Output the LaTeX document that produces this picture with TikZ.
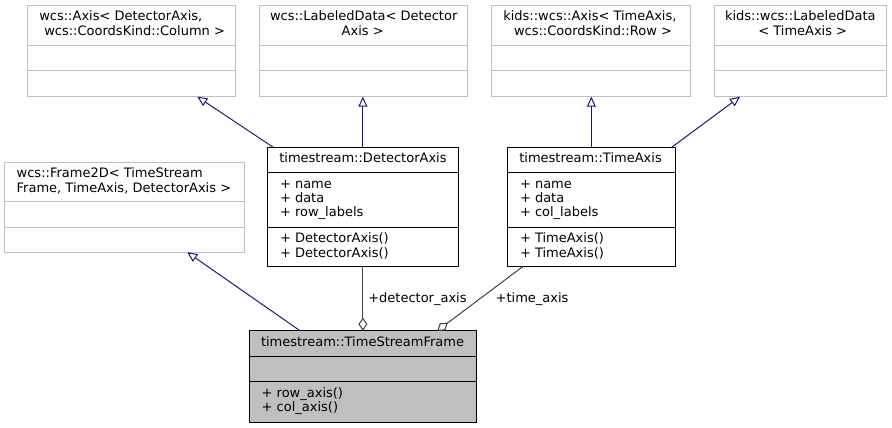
\documentclass[tikz,border=0pt]{standalone}
\usepackage{fontspec}
\setmainfont{DejaVu Sans}
\usetikzlibrary{arrows.meta}
\definecolor{inhc}{HTML}{191970}
\definecolor{aggc}{HTML}{404040}
\definecolor{grayb}{HTML}{BFBFBF}
\newcommand\umlbox[9]{%
  \node[draw=#2, fill=#3, line width=1pt, inner sep=0pt, outer sep=0pt, anchor=north west,
        minimum width={(#6-#4)*1pt}, minimum height={(#7-#5)*1pt}] (#1) at (#4,#5) {};
  \draw[#2, line width=1pt] (#4,#8) -- (#6,#8) (#4,#9) -- (#6,#9);
}
\tikzset{
  txt/.style={inner sep=0pt, outer sep=0pt, anchor=base west},
  inh/.style={draw=inhc, line width=1pt, -{Triangle[length=10pt,width=9pt,fill=white]}},
  agg/.style={draw=aggc, line width=1pt, -{Diamond[length=13pt,width=9pt,fill=white]}}
}
\begin{document}
\begin{tikzpicture}[x=1pt,y=-1pt,font=\fontsize{13}{15}\selectfont]
\useasboundingbox (0,0) rectangle (892,428);
% top row
\umlbox{A}{grayb}{white}{27.3}{5.3}{235}{96.7}{45.7}{71}
\umlbox{B}{grayb}{white}{259}{5.3}{467}{96.7}{45.7}{71}
\umlbox{C}{grayb}{white}{491.7}{5.3}{690.3}{96.7}{45.7}{71}
\umlbox{D}{grayb}{white}{714}{5.3}{886.7}{96.7}{45.7}{71}
\node[txt] (A1) at (39.3,21) {wcs::Axis< DetectorAxis,};
\node[txt] (A2) at (44.3,36) {wcs::CoordsKind::Column >};
\node[txt] (B1) at (270,21) {wcs::LabeledData< Detector};
\node[txt] (B2) at (341.7,36) {Axis >};
\node[txt] (C1) at (503.3,21) {kids::wcs::Axis< TimeAxis,};
\node[txt] (C2) at (514,36) {wcs::CoordsKind::Row >};
\node[txt] (D1) at (725,21) {kids::wcs::LabeledData};
\node[txt] (D2) at (758.3,36) {< TimeAxis >};
% Frame2D
\umlbox{F}{grayb}{white}{4.7}{162.3}{244.3}{252.3}{201.7}{227.3}
\node[txt] (F1) at (16.7,177.5) {wcs::Frame2D< TimeStream};
\node[txt] (F2) at (16.7,192) {Frame, TimeAxis, DetectorAxis >};
% DetectorAxis
\umlbox{DA}{black}{white}{267.5}{147.3}{458.3}{266.7}{172.3}{227.3}
\node[txt] (DAt) at (279.3,162.7) {timestream::DetectorAxis};
\node[txt] (DAa1) at (280,188.3) {+ name};
\node[txt] (DAa2) at (280,202.7) {+ data};
\node[txt] (DAa3) at (280,216.7) {+ row\_labels};
\node[txt] (DAm1) at (280,242.7) {+ DetectorAxis()};
\node[txt] (DAm2) at (280,257.3) {+ DetectorAxis()};
% TimeAxis
\umlbox{TA}{black}{white}{507.7}{147.3}{675}{266.7}{172.3}{227.3}
\node[txt] (TAt) at (519.3,162.7) {timestream::TimeAxis};
\node[txt] (TAa1) at (520,188.3) {+ name};
\node[txt] (TAa2) at (520,202.7) {+ data};
\node[txt] (TAa3) at (520,216.7) {+ col\_labels};
\node[txt] (TAm1) at (520,242.7) {+ TimeAxis()};
\node[txt] (TAm2) at (520,257.3) {+ TimeAxis()};
% TimeStreamFrame
\umlbox{TSF}{black}{grayb}{249.3}{330.7}{476.7}{422.3}{356.7}{381.7}
\node[txt] (TSFt) at (261,346) {timestream::TimeStreamFrame};
\node[txt] (TSFm1) at (261.7,397.3) {+ row\_axis()};
\node[txt] (TSFm2) at (261.7,411.7) {+ col\_axis()};
% inheritance
\draw[inh] ([xshift=5.8pt]DA.north west) -- ([xshift=170pt]A.south west);
\draw[inh] (DA.north) -- (DA.north |- B.south);
\draw[inh] (TA.north) -- (TA.north |- C.south);
\draw[inh] ([xshift=-3.3pt]TA.north east) -- ([xshift=26pt]D.south west);
\draw[inh] ([xshift=50.7pt]TSF.north west) -- ([xshift=-57pt]F.south east);
% aggregation
\draw[agg] (DA.south) -- (DA.south |- TSF.north);
\draw[agg] ([xshift=15pt]TA.south west) -- ([xshift=-39.4pt]TSF.north east);
\node[txt] (lda) at (368.3,302.7) {+detector\_axis};
\node[txt] (lta) at (495.7,302.7) {+time\_axis};
\end{tikzpicture}
\end{document}
